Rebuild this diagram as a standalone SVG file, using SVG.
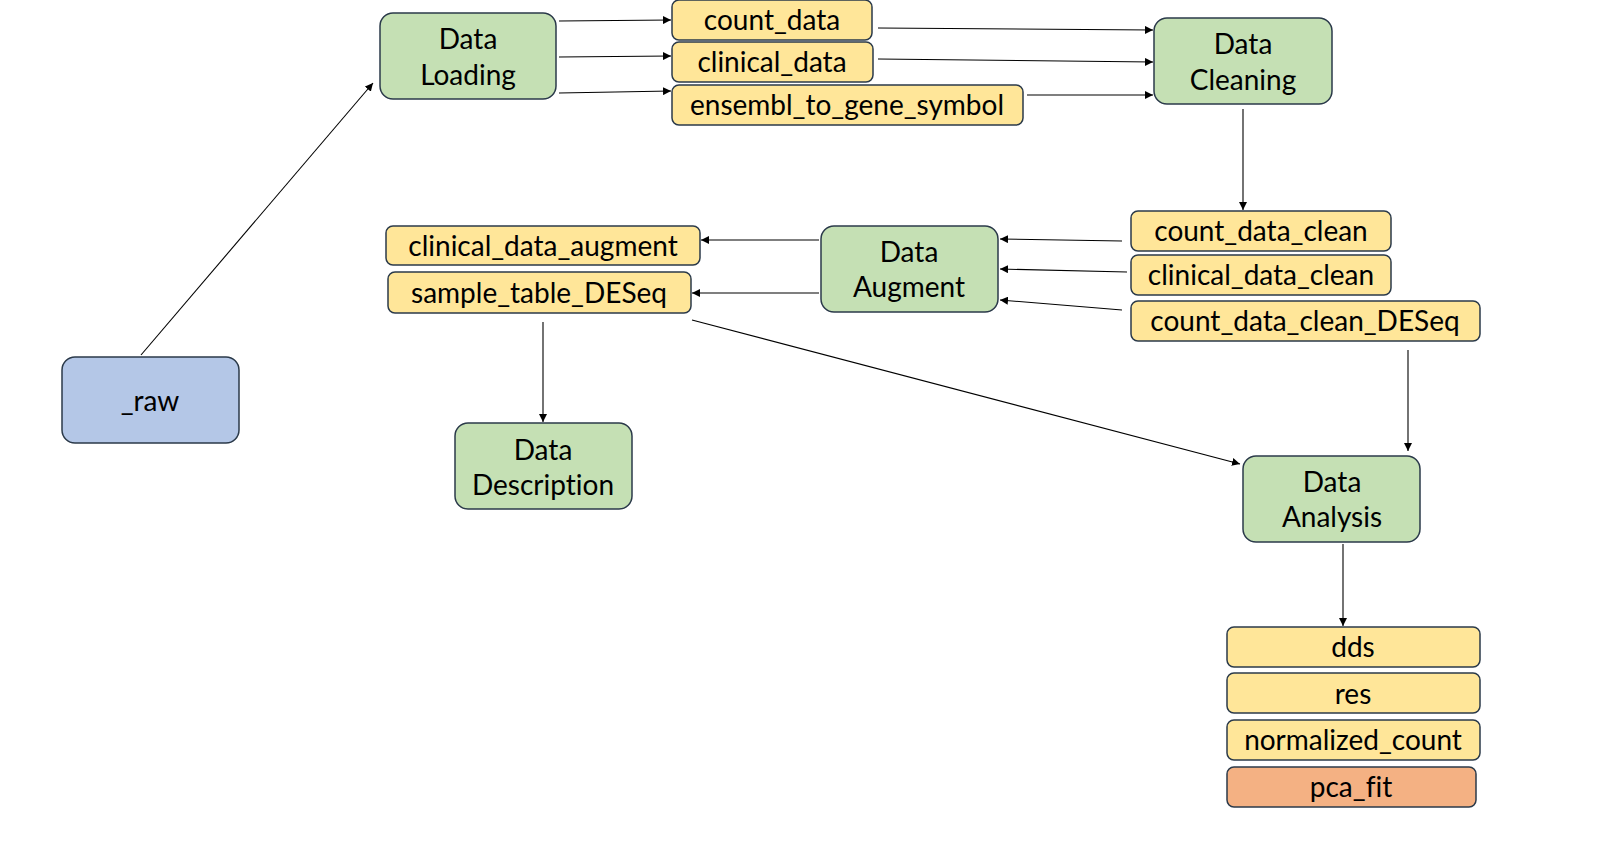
<svg xmlns="http://www.w3.org/2000/svg" width="1600" height="853" viewBox="0 0 1600 853">
<defs>
<marker id="arr" viewBox="0 0 10 10" refX="10" refY="5" markerWidth="8" markerHeight="8" markerUnits="userSpaceOnUse" orient="auto">
<path d="M0,0 L10,5 L0,10 z" fill="#000"/>
</marker>
<style>
.proc rect{fill:#c5e0b4;stroke:#2b3a4a;stroke-width:1.5}
.data rect{fill:#ffe699;stroke:#2b3a4a;stroke-width:1.5}
.raw rect{fill:#b4c7e7;stroke:#2b3a4a;stroke-width:1.5}
.pca rect{fill:#f4b183;stroke:#2b3a4a;stroke-width:1.5}
text{font-family:Lato,"Open Sans","Liberation Sans",sans-serif;font-size:28px;fill:#000;text-anchor:middle;dominant-baseline:central;font-variant-ligatures:none}
#connectors line{stroke:#000;stroke-width:1.1;marker-end:url(#arr)}
</style>
</defs>
<rect width="1600" height="853" fill="#fff"/>
<g id="connectors">
<line x1="141" y1="355" x2="373" y2="83"/>
<line x1="559" y1="21" x2="671" y2="20"/>
<line x1="559" y1="57" x2="671" y2="56"/>
<line x1="559" y1="93" x2="671" y2="91"/>
<line x1="878" y1="28" x2="1153" y2="30"/>
<line x1="878" y1="59" x2="1153" y2="62"/>
<line x1="1027" y1="95" x2="1153" y2="95"/>
<line x1="1243" y1="109" x2="1243" y2="210"/>
<line x1="1122" y1="241" x2="1000" y2="239"/>
<line x1="1127" y1="272" x2="1000" y2="269"/>
<line x1="1122" y1="310" x2="1000" y2="300"/>
<line x1="819" y1="240" x2="701" y2="240"/>
<line x1="819" y1="293" x2="692" y2="293"/>
<line x1="543" y1="322" x2="543" y2="422"/>
<line x1="692" y1="320" x2="1240" y2="464"/>
<line x1="1408" y1="350" x2="1408" y2="451"/>
<line x1="1343" y1="544" x2="1343" y2="626"/>
</g>
<g id="raw" class="raw"><rect x="62" y="357" width="177" height="86" rx="13"/><text x="150" y="400">_raw</text></g>
<g id="data-loading" class="proc"><rect x="380" y="13" width="176" height="86" rx="13"/><text x="468" y="38">Data</text><text x="468" y="74">Loading</text></g>
<g id="count-data" class="data"><rect x="672" y="0" width="200" height="40" rx="7"/><text x="772" y="19">count_data</text></g>
<g id="clinical-data" class="data"><rect x="672" y="42" width="201" height="40" rx="7"/><text x="772" y="61">clinical_data</text></g>
<g id="ensembl" class="data"><rect x="672" y="85" width="351" height="40" rx="7"/><text x="847" y="104">ensembl_to_gene_symbol</text></g>
<g id="data-cleaning" class="proc"><rect x="1154" y="18" width="178" height="86" rx="13"/><text x="1243" y="43">Data</text><text x="1243" y="79">Cleaning</text></g>
<g id="count-data-clean" class="data"><rect x="1131" y="211" width="260" height="40" rx="7"/><text x="1261" y="230">count_data_clean</text></g>
<g id="clinical-data-clean" class="data"><rect x="1131" y="255" width="260" height="40" rx="7"/><text x="1261" y="274">clinical_data_clean</text></g>
<g id="count-data-clean-deseq" class="data"><rect x="1131" y="301" width="349" height="40" rx="7"/><text x="1305" y="320">count_data_clean_DESeq</text></g>
<g id="data-augment" class="proc"><rect x="821" y="226" width="177" height="86" rx="13"/><text x="909" y="251">Data</text><text x="909" y="286">Augment</text></g>
<g id="clinical-data-augment" class="data"><rect x="386" y="226" width="314" height="39" rx="7"/><text x="543" y="245">clinical_data_augment</text></g>
<g id="sample-table-deseq" class="data"><rect x="388" y="272" width="303" height="41" rx="7"/><text x="539" y="292">sample_table_DESeq</text></g>
<g id="data-description" class="proc"><rect x="455" y="423" width="177" height="86" rx="13"/><text x="543" y="449">Data</text><text x="543" y="484">Description</text></g>
<g id="data-analysis" class="proc"><rect x="1243" y="456" width="177" height="86" rx="13"/><text x="1332" y="481">Data</text><text x="1332" y="516">Analysis</text></g>
<g id="dds" class="data"><rect x="1227" y="627" width="253" height="40" rx="7"/><text x="1353" y="646">dds</text></g>
<g id="res" class="data"><rect x="1227" y="673" width="253" height="40" rx="7"/><text x="1353" y="693">res</text></g>
<g id="normalized-count" class="data"><rect x="1227" y="720" width="253" height="40" rx="7"/><text x="1353" y="739">normalized_count</text></g>
<g id="pca-fit" class="pca"><rect x="1227" y="767" width="249" height="40" rx="7"/><text x="1351" y="786">pca_fit</text></g>
</svg>
